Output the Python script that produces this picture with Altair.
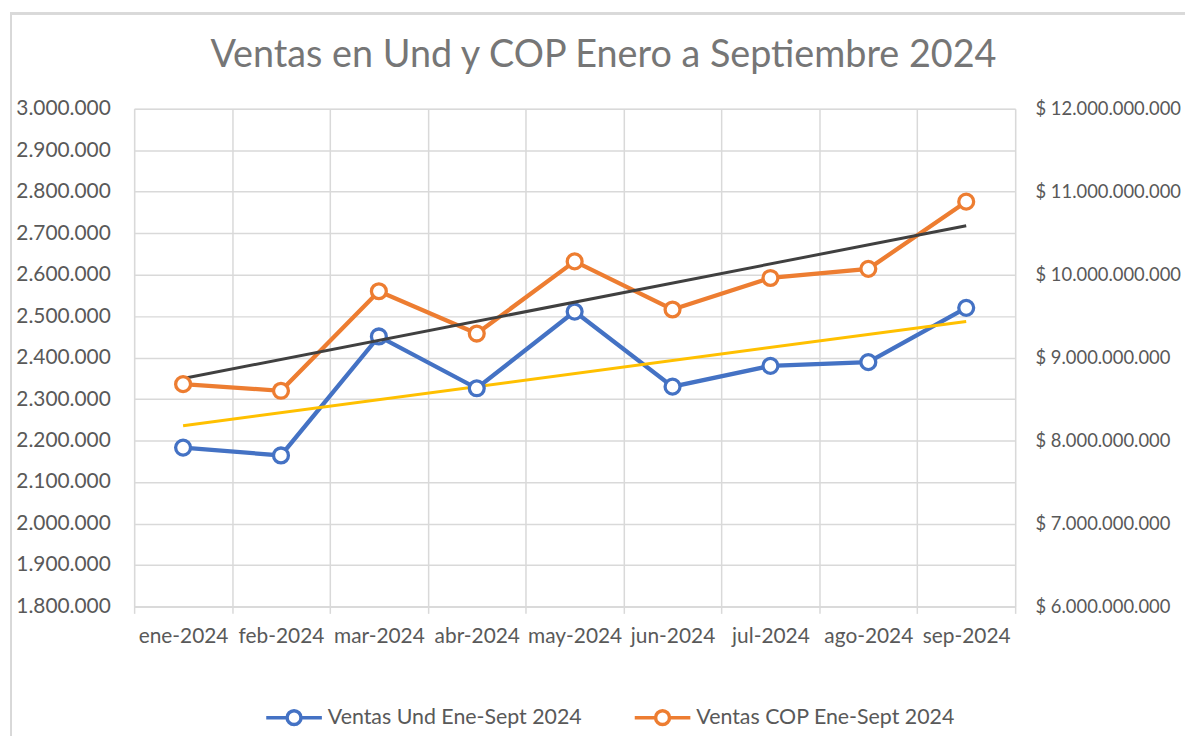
import json
import altair as alt
import pandas as pd

# ---------------- data ----------------
MONTHS = ["ene-2024", "feb-2024", "mar-2024", "abr-2024", "may-2024",
          "jun-2024", "jul-2024", "ago-2024", "sep-2024"]
VENTAS_UND = [2183000, 2164000, 2451000, 2326000, 2511000,
              2330000, 2380000, 2389000, 2520000]
VENTAS_COP = [8680000000, 8600000000, 9800000000, 9290000000, 10160000000,
              9580000000, 9960000000, 10070000000, 10880000000]
SERIES = ["Ventas Und Ene-Sept 2024", "Ventas COP Ene-Sept 2024"]
LEFT_TICKS = [1800000, 1900000, 2000000, 2100000, 2200000, 2300000, 2400000,
              2500000, 2600000, 2700000, 2800000, 2900000, 3000000]
RIGHT_TICKS = [6000000000, 7000000000, 8000000000, 9000000000,
               10000000000, 11000000000, 12000000000]
TITLE = "Ventas en Und y COP Enero a Septiembre 2024"

df = pd.DataFrame({"month": MONTHS, "idx": list(range(len(MONTHS))),
                   "und": VENTAS_UND, "cop": VENTAS_COP})

# ---------------- styles ----------------
W, H = 887, 501
BLUE, ORANGE, YELLOW, DARK = "#4472C4", "#ED7D31", "#FFC000", "#404040"
GRID = "#d9d9d9"
TXT = "#595959"
FONT = "Lato"

month_expr = json.dumps(MONTHS) + "[datum.idx]"

PATH = ("M-1,0L-0.25,0M0.25,0L1,0"
        "M-0.25,0A0.25,0.25,0,1,0,0.25,0A0.25,0.25,0,1,0,-0.25,0Z")

legend = alt.Legend(orient="none", legendX=131, legendY=583, direction="horizontal",
                    symbolType=PATH, symbolSize=3136, symbolStrokeWidth=3.5,
                    symbolFillColor="white", labelFont=FONT, labelFontSize=21.5,
                    labelColor=TXT, labelLimit=0, columnPadding=46, labelOffset=4,
                    padding=0)

color_scale = alt.Scale(domain=SERIES, range=[BLUE, ORANGE])
color_enc = alt.Color("serie:N", scale=color_scale, title=None, legend=legend)

x_enc = alt.X("month:N", sort=MONTHS,
              scale=alt.Scale(type="band", paddingInner=0, paddingOuter=0),
              axis=alt.Axis(title=None, tickBand="extent", grid=True, gridColor=GRID,
                            gridWidth=1.5, domainColor=GRID, domainWidth=1.5,
                            tickColor=GRID, tickWidth=1.5, tickSize=7, labelAngle=0,
                            labelFont=FONT, labelFontSize=21, labelColor=TXT,
                            labelBaseline="alphabetic", labelPadding=29))

y_left = alt.Y("und:Q", scale=alt.Scale(domain=[1800000, 3000000], nice=False, zero=False),
               axis=alt.Axis(title=None, values=LEFT_TICKS, format=",.0f", grid=True,
                             gridColor=GRID, gridWidth=1.5, domain=False, ticks=False,
                             tickSize=0, labelPadding=24, labelFont=FONT,
                             labelFontSize=21, labelColor=TXT))
y_right = alt.Y("cop:Q", scale=alt.Scale(domain=[6000000000, 12000000000], nice=False, zero=False),
                axis=alt.Axis(title=None, orient="right", values=RIGHT_TICKS, format="$,.0f",
                              grid=False, domain=False, ticks=False, tickSize=0,
                              labelPadding=20, labelFont=FONT, labelFontSize=18.5,
                              labelColor=TXT))

base = alt.Chart(df)

frame = base.mark_rect(fillOpacity=0, stroke=GRID, strokeWidth=2).encode(
    x=alt.value(-124), x2=alt.value(1200), y=alt.value(-96), y2=alt.value(800))

und_line = base.transform_calculate(serie=json.dumps(SERIES[0])).mark_line(
    strokeWidth=4.3).encode(x=x_enc, y=y_left, color=color_enc)
und_trend = base.transform_regression("idx", "und", method="linear").transform_calculate(
    month=month_expr).mark_line(strokeWidth=3, color=YELLOW).encode(x=x_enc, y=y_left)
und_pts = base.transform_calculate(serie=json.dumps(SERIES[0])).mark_point(
    filled=False, fill="white", opacity=1, size=225, strokeWidth=3.3).encode(
    x=x_enc, y=y_left, color=color_enc)

cop_line = base.transform_calculate(serie=json.dumps(SERIES[1])).mark_line(
    strokeWidth=4.3).encode(x=x_enc, y=y_right, color=color_enc)
cop_trend = base.transform_regression("idx", "cop", method="linear").transform_calculate(
    month=month_expr).mark_line(strokeWidth=3, color=DARK).encode(x=x_enc, y=y_right)
cop_pts = base.transform_calculate(serie=json.dumps(SERIES[1])).mark_point(
    filled=False, fill="white", opacity=1, size=225, strokeWidth=3.3).encode(
    x=x_enc, y=y_right, color=color_enc)

grp_und = alt.layer(und_line, und_trend, und_pts)
grp_cop = alt.layer(cop_line, cop_trend, cop_pts)

chart = alt.layer(frame, grp_und, grp_cop).resolve_scale(y="independent").properties(
    width=W, height=H,
    autosize=alt.AutoSizeParams(type="none"),
    padding={"left": 127, "top": 99, "right": 171, "bottom": 128},
    title=alt.TitleParams(TITLE, font=FONT, fontSize=38, fontWeight="normal",
                          color="#767676", anchor="middle", frame="group", dx=29,
                          baseline="alphabetic", offset=-93),
).configure_view(stroke=GRID, strokeWidth=1.5, fill="#efefef").configure(
    locale={"number": {"decimal": ",", "thousands": ".", "grouping": [3],
                       "currency": ["$ ", ""]}})

chart.save("out.html", embed_options={"renderer": "svg", "actions": False})
